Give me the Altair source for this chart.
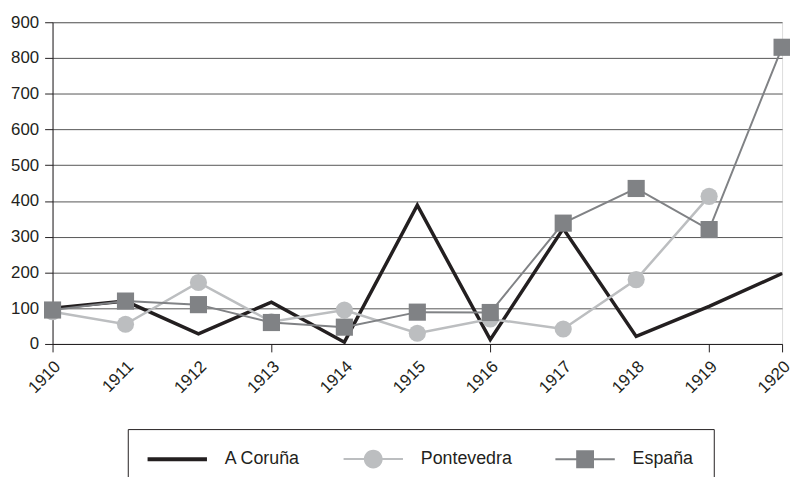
import altair as alt
import pandas as pd

years = list(range(1910, 1921))
coruna = [100, 120, 28, 117, 5, 388, 12, 323, 21, 105, 197]
pontevedra = [90, 55, 172, 62, 95, 30, 70, 42, 180, 413, None]
espana = [95, 120, 110, 60, 47, 89, 88, 338, 435, 320, 830]

series_names = ["A Coruña", "Pontevedra", "España"]
series_colors = ["#231f20", "#bcbec0", "#808285"]
y_ticks = list(range(0, 1000, 100))
x_tick_marks = [1910, 1913, 1916, 1919, 1920]

# legend symbols: line segment with marker (custom SVG paths)
legend_paths = [
    "M-1,-0.2H5V0.2H-1Z",
    "M-1,-0.1H5V0.1H-1Z M1.05,0A0.95,0.95 0 1,1 2.95,0A0.95,0.95 0 1,1 1.05,0Z",
    "M-1,-0.1H5V0.1H-1Z M1.1,-0.9H2.9V0.9H1.1Z",
]

rows = []
for name, vals in zip(series_names, [coruna, pontevedra, espana]):
    for yr, v in zip(years, vals):
        if v is not None:
            rows.append({"year": yr, "value": v, "series": name})
df = pd.DataFrame(rows)

ink = "#231f20"
tick_test = "indexof([" + ",".join(str(t) for t in x_tick_marks) + "], datum.value) >= 0"

x_enc = alt.X(
    "year:Q",
    scale=alt.Scale(domain=[1910, 1920], nice=False, zero=False),
    axis=alt.Axis(
        values=years, format="d", labelAngle=315, labelAlign="right",
        labelBaseline="middle", labelFontSize=17, labelPadding=12,
        labelOffset=5, tickSize=8,
        tickOpacity={"condition": {"test": tick_test, "value": 1}, "value": 0},
        grid=False, title=None, domainColor=ink, tickColor=ink,
        labelColor=ink, labelFont="Liberation Sans",
    ),
)
y_enc = alt.Y(
    "value:Q",
    scale=alt.Scale(domain=[0, 900], nice=False, zero=True),
    axis=alt.Axis(
        values=y_ticks, grid=True, gridColor="#555555", gridWidth=1,
        tickSize=8, labelPadding=6, labelFontSize=17, title=None,
        domainColor=ink, tickColor=ink, labelColor=ink,
        labelFont="Liberation Sans",
    ),
)

base = alt.Chart(df).encode(x=x_enc, y=y_enc)

l_cor = base.transform_filter(alt.datum.series == series_names[0]).mark_line(
    color=series_colors[0], strokeWidth=3.5)
l_pon = base.transform_filter(alt.datum.series == series_names[1]).mark_line(
    color=series_colors[1], strokeWidth=2.5)
p_pon = base.transform_filter(alt.datum.series == series_names[1]).mark_point(
    shape="circle", filled=True, size=300, color=series_colors[1], opacity=1)
l_esp = base.transform_filter(alt.datum.series == series_names[2]).mark_line(
    color=series_colors[2], strokeWidth=2)
p_esp = base.transform_filter(alt.datum.series == series_names[2]).mark_point(
    shape="square", filled=True, size=300, color=series_colors[2], opacity=1)

leg = alt.Legend(
    title=None, orient="none", legendX=76, legendY=411, direction="horizontal",
    symbolSize=400, symbolStrokeWidth=0, symbolOpacity=1, labelOffset=58,
    columnPadding=43, padding=20, strokeColor=ink, labelFontSize=18,
    labelFont="Liberation Sans", labelColor=ink, labelLimit=0,
)
legend_layer = alt.Chart(df).transform_filter("false").mark_point(
    filled=True, opacity=1).encode(
    x=x_enc, y=y_enc,
    color=alt.Color("series:N", scale=alt.Scale(domain=series_names, range=series_colors), legend=leg),
    shape=alt.Shape("series:N", scale=alt.Scale(domain=series_names, range=legend_paths), legend=leg),
)

chart = alt.layer(l_cor, l_pon, p_pon, l_esp, p_esp, legend_layer).properties(
    width=737, height=325,
    autosize=alt.AutoSizeParams(type="none"),
    padding={"left": 45, "top": 12, "right": 8, "bottom": 132},
    background="white",
).configure_view(stroke="#555555", strokeWidth=1).configure(font="Liberation Sans")

chart.save("out.html", embed_options={"renderer": "svg", "actions": False})
